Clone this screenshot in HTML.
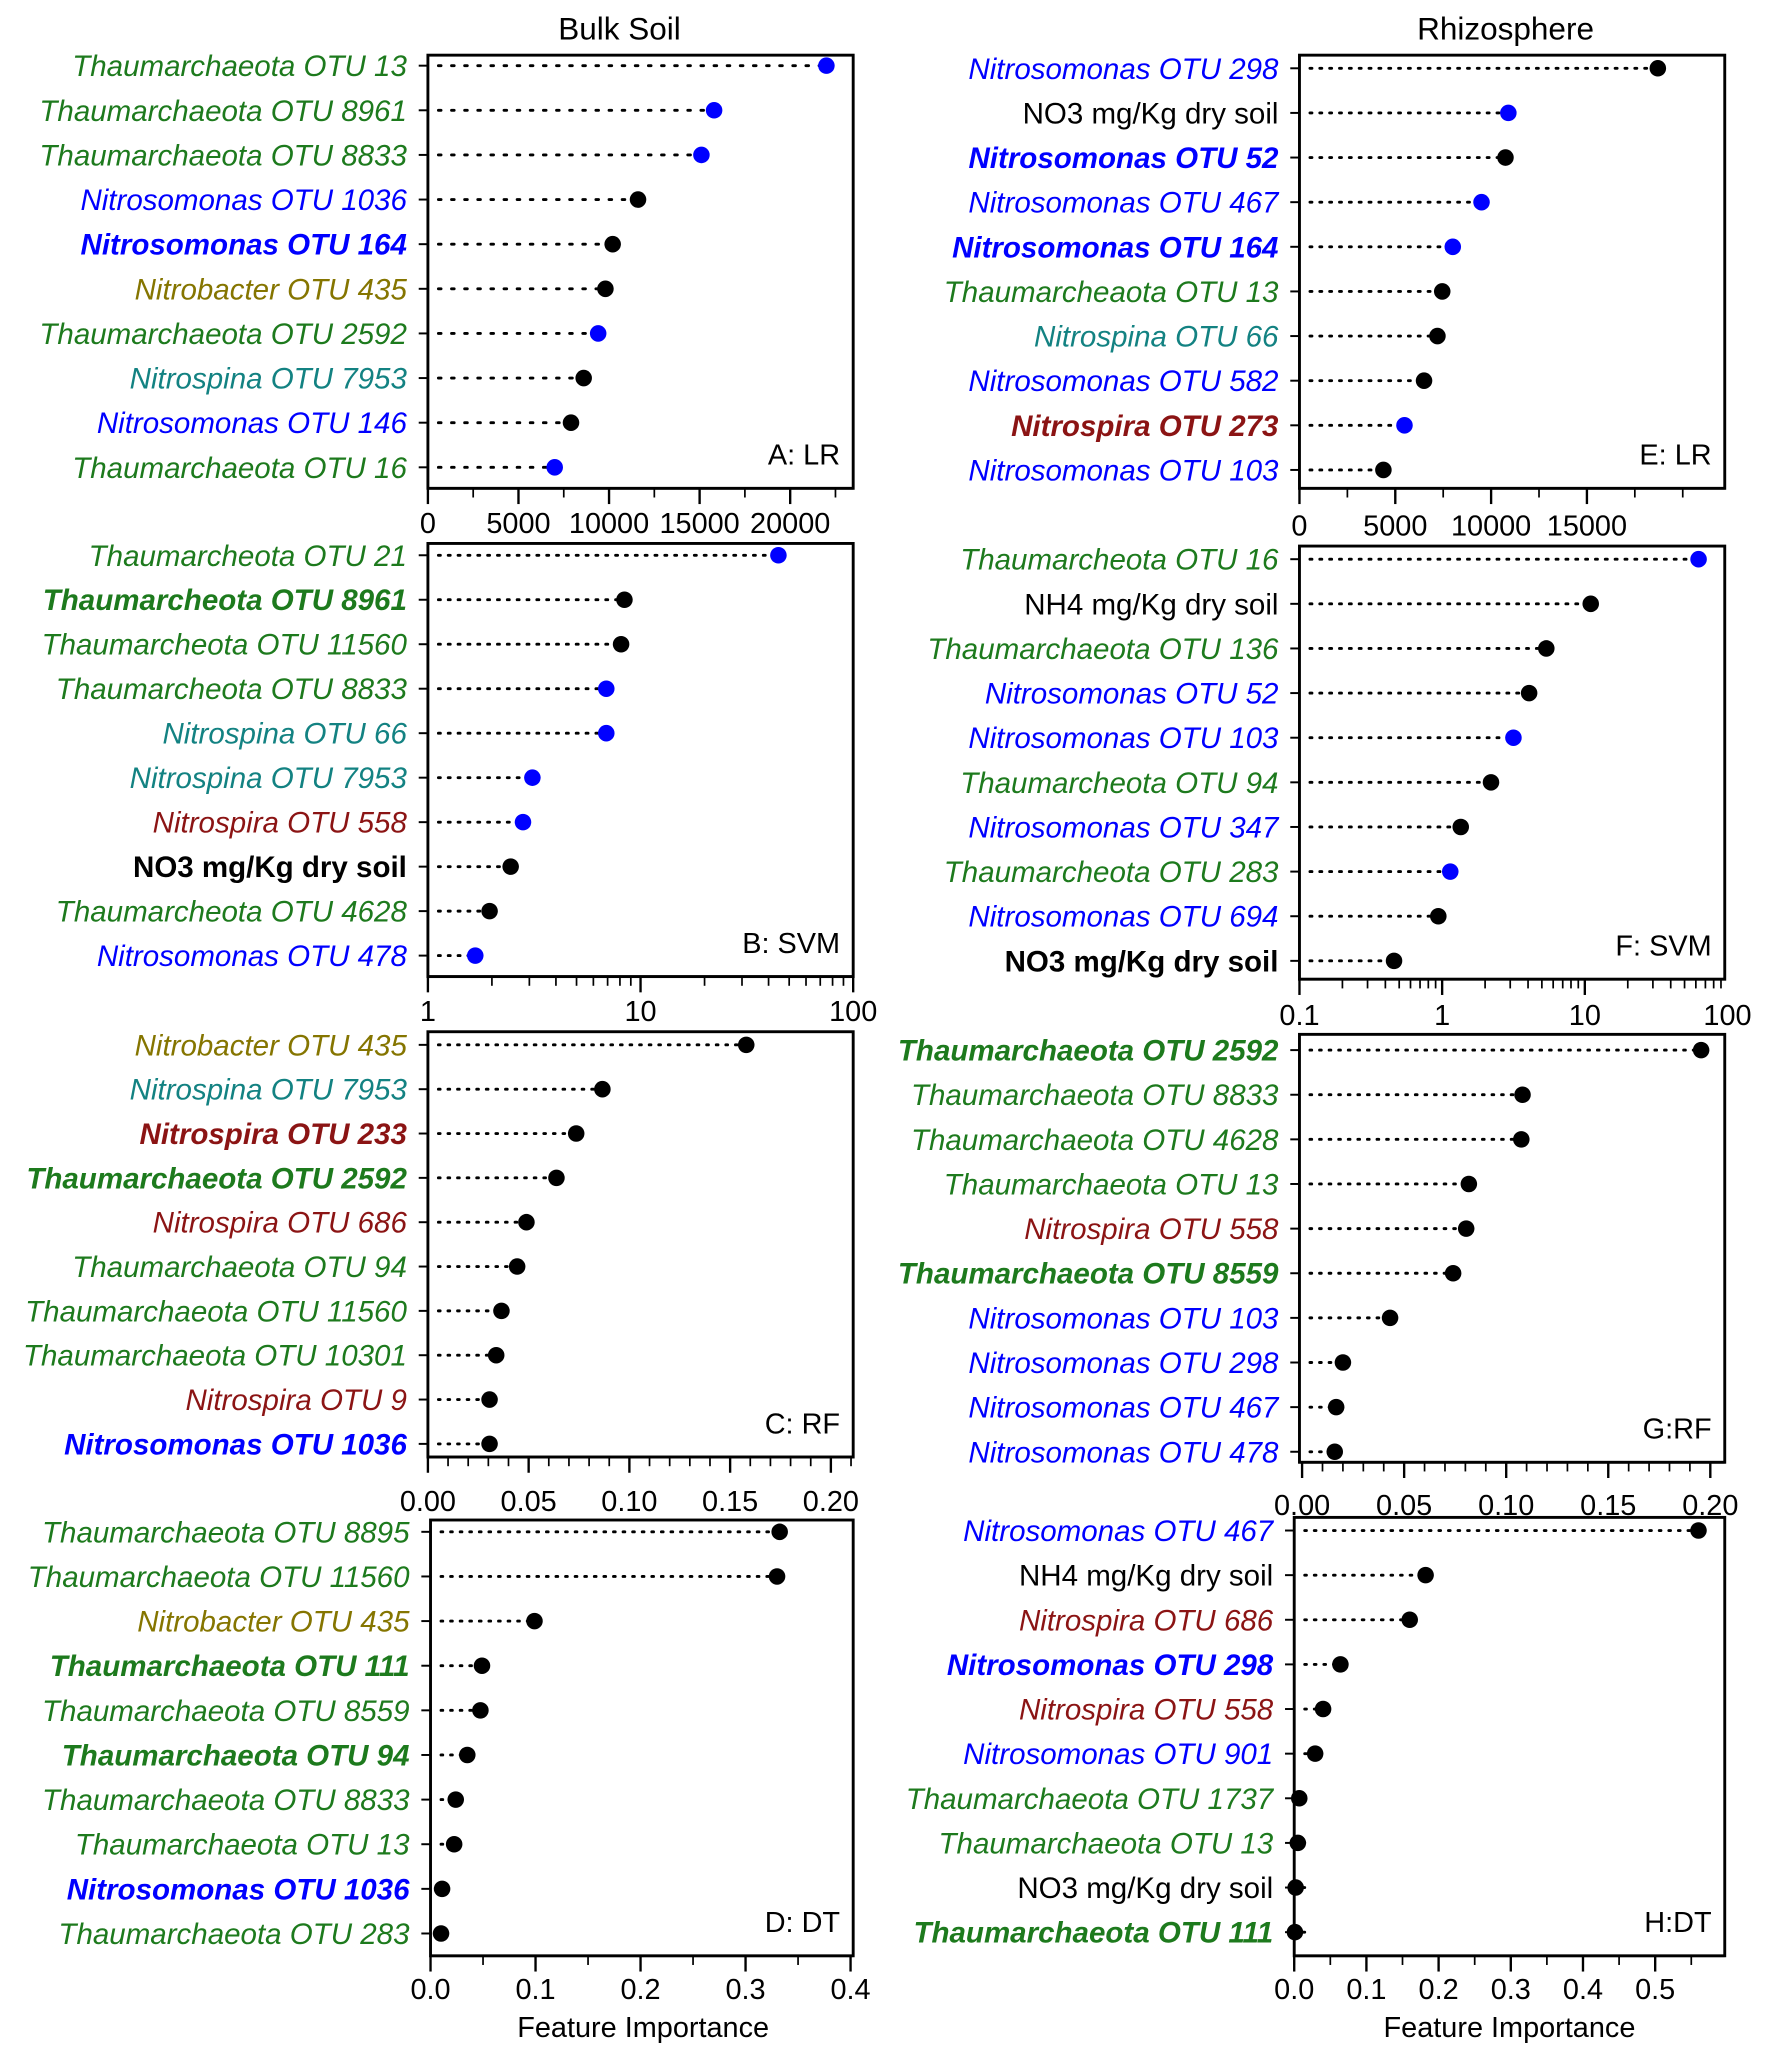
<!DOCTYPE html>
<html><head><meta charset="utf-8"><style>
html,body{margin:0;padding:0;background:#fff}
svg{display:block;font-family:"Liberation Sans",Arial,sans-serif}
</style></head><body>
<svg id="fig" width="1772" height="2059" viewBox="0 0 1350 1568.6" xmlns="http://www.w3.org/2000/svg">
<text x="472" y="30" font-size="24" text-anchor="middle">Bulk Soil</text>
<text x="1147" y="30" font-size="24" text-anchor="middle">Rhizosphere</text>
<text x="490" y="1552" font-size="22" text-anchor="middle">Feature Importance</text>
<text x="1150" y="1552" font-size="22" text-anchor="middle">Feature Importance</text>
</svg>
<script>
const G="#1d7a1d",B="#0000ff",O="#857500",T="#138282",R="#8b1414",K="#000";
// Panel A
const aLabels=["Thaumarchaeota OTU 13","Thaumarchaeota OTU 8961","Thaumarchaeota OTU 8833","Nitrosomonas OTU 1036","Nitrosomonas OTU 164","Nitrobacter OTU 435","Thaumarchaeota OTU 2592","Nitrospina OTU 7953","Nitrosomonas OTU 146","Thaumarchaeota OTU 16"];
const aValues=[22000,15800,15100,11600,10200,9800,9400,8600,7900,7000];
const aTicks=["0","5000","10000","15000","20000"];
// Panel B
const bLabels=["Thaumarcheota OTU 21","Thaumarcheota OTU 8961","Thaumarcheota OTU 11560","Thaumarcheota OTU 8833","Nitrospina OTU 66","Nitrospina OTU 7953","Nitrospira OTU 558","NO3 mg/Kg dry soil","Thaumarcheota OTU 4628","Nitrosomonas OTU 478"];
const bValues=[44.5,8.4,8.1,6.9,6.9,3.1,2.8,2.45,1.95,1.67];
const bTicks=["1","10","100"];
// Panel C
const cLabels=["Nitrobacter OTU 435","Nitrospina OTU 7953","Nitrospira OTU 233","Thaumarchaeota OTU 2592","Nitrospira OTU 686","Thaumarchaeota OTU 94","Thaumarchaeota OTU 11560","Thaumarchaeota OTU 10301","Nitrospira OTU 9","Nitrosomonas OTU 1036"];
const cValues=[0.158,0.0866,0.0736,0.0638,0.0489,0.0443,0.0365,0.0339,0.0306,0.0306];
const cTicks=["0.00","0.05","0.10","0.15","0.20"];
// Panel D
const dLabels=["Thaumarchaeota OTU 8895","Thaumarchaeota OTU 11560","Nitrobacter OTU 435","Thaumarchaeota OTU 111","Thaumarchaeota OTU 8559","Thaumarchaeota OTU 94","Thaumarchaeota OTU 8833","Thaumarchaeota OTU 13","Nitrosomonas OTU 1036","Thaumarchaeota OTU 283"];
const dValues=[0.3325,0.33,0.099,0.049,0.0475,0.035,0.024,0.0225,0.011,0.01];
const dTicks=["0.0","0.1","0.2","0.3","0.4"];
// Panel E
const eLabels=["Nitrosomonas OTU 298","NO3 mg/Kg dry soil","Nitrosomonas OTU 52","Nitrosomonas OTU 467","Nitrosomonas OTU 164","Thaumarcheaota OTU 13","Nitrospina OTU 66","Nitrosomonas OTU 582","Nitrospira OTU 273","Nitrosomonas OTU 103"];
const eValues=[18700,10900,10750,9500,8000,7450,7200,6500,5480,4380];
const eTicks=["0","5000","10000","15000"];
// Panel F
const fLabels=["Thaumarcheota OTU 16","NH4 mg/Kg dry soil","Thaumarchaeota OTU 136","Nitrosomonas OTU 52","Nitrosomonas OTU 103","Thaumarcheota OTU 94","Nitrosomonas OTU 347","Thaumarcheota OTU 283","Nitrosomonas OTU 694","NO3 mg/Kg dry soil"];
const fValues=[62.7,11.0,5.37,4.07,3.16,2.2,1.35,1.14,0.94,0.46];
const fTicks=["0.1","1","10","100"];
// Panel G
const gLabels=["Thaumarchaeota OTU 2592","Thaumarchaeota OTU 8833","Thaumarchaeota OTU 4628","Thaumarchaeota OTU 13","Nitrospira OTU 558","Thaumarchaeota OTU 8559","Nitrosomonas OTU 103","Nitrosomonas OTU 298","Nitrosomonas OTU 467","Nitrosomonas OTU 478"];
const gValues=[0.1955,0.108,0.1074,0.0817,0.0804,0.074,0.0431,0.02,0.0167,0.016];
const gTicks=["0.00","0.05","0.10","0.15","0.20"];
// Panel H
const hLabels=["Nitrosomonas OTU 467","NH4 mg/Kg dry soil","Nitrospira OTU 686","Nitrosomonas OTU 298","Nitrospira OTU 558","Nitrosomonas OTU 901","Thaumarchaeota OTU 1737","Thaumarchaeota OTU 13","NO3 mg/Kg dry soil","Thaumarchaeota OTU 111"];
const hValues=[0.56,0.182,0.16,0.064,0.04,0.029,0.007,0.005,0.002,0.001];
const hTicks=["0.0","0.1","0.2","0.3","0.4","0.5"];

const panels=[
 {id:"a",tag:"A: LR",labels:aLabels,values:aValues,ticks:aTicks,lc:[G,G,G,B,B,O,G,T,B,G],bold:[0,0,0,0,1,0,0,0,0,0],pc:[B,B,B,K,K,K,B,K,K,B],
  x0:326,x1:650,top:42,bot:372,r0:50,r1:356,scale:{type:"lin",min:0,p0:326,ppu:69/5000},tickVals:[0,5000,10000,15000,20000],minor:2500,ly:406,dash:"2 8"},
 {id:"b",tag:"B: SVM",labels:bLabels,values:bValues,ticks:bTicks,lc:[G,G,G,G,T,T,R,K,G,B],bold:[0,1,0,0,0,0,0,1,0,0],pc:[B,K,K,B,B,B,B,K,K,B],
  x0:326,x1:650,top:414,bot:744,r0:423,r1:728,scale:{type:"log",min:1,p0:326,ppd:162},tickVals:[1,10,100],ly:778,dash:"1.5 6"},
 {id:"c",tag:"C: RF",labels:cLabels,values:cValues,ticks:cTicks,lc:[O,T,R,G,R,G,G,G,R,B],bold:[0,0,1,1,0,0,0,0,0,1],pc:Array(10).fill(K),
  x0:326,x1:650,top:786,bot:1110,r0:796,r1:1100,scale:{type:"lin",min:0,p0:326,ppu:1535},tickVals:[0,0.05,0.1,0.15,0.2],minor:0.01,ly:1151,dash:"1.3 6"},
 {id:"d",tag:"D: DT",labels:dLabels,values:dValues,ticks:dTicks,lc:[G,G,O,G,G,G,G,G,B,G],bold:[0,0,0,1,0,1,0,0,1,0],pc:Array(10).fill(K),
  x0:328,x1:650,top:1158,bot:1490,r0:1167,r1:1473,scale:{type:"lin",min:0,p0:328,ppu:800},tickVals:[0,0.1,0.2,0.3,0.4],minor:0.05,ly:1523,dash:"1.3 6"},
 {id:"e",tag:"E: LR",labels:eLabels,values:eValues,ticks:eTicks,lc:[B,K,B,B,B,G,T,B,R,B],bold:[0,0,1,0,1,0,0,0,1,0],pc:[K,B,K,B,B,K,K,K,B,K],
  x0:990,x1:1314,top:42,bot:372,r0:52,r1:358,scale:{type:"lin",min:0,p0:990,ppu:73/5000},tickVals:[0,5000,10000,15000],minor:2500,ly:408,dash:"1.5 6"},
 {id:"f",tag:"F: SVM",labels:fLabels,values:fValues,ticks:fTicks,lc:[G,K,G,B,B,G,B,G,B,K],bold:[0,0,0,0,0,0,0,0,0,1],pc:[B,K,K,K,B,K,K,B,K,K],
  x0:990,x1:1314,top:416,bot:746,r0:426,r1:732,scale:{type:"log",min:0.1,p0:990,ppd:108.7},tickVals:[0.1,1,10,100],ly:781,dash:"1.5 6"},
 {id:"g",tag:"G:RF",labels:gLabels,values:gValues,ticks:gTicks,lc:[G,G,G,G,R,G,B,B,B,B],bold:[1,0,0,0,0,1,0,0,0,0],pc:Array(10).fill(K),
  x0:990,x1:1314,top:788,bot:1114,r0:800,r1:1106,scale:{type:"lin",min:0,p0:992,ppu:1555},tickVals:[0,0.05,0.1,0.15,0.2],minor:0.01,ly:1154,dash:"1.3 6"},
 {id:"h",tag:"H:DT",labels:hLabels,values:hValues,ticks:hTicks,lc:[B,K,R,B,R,B,G,G,K,G],bold:[0,0,0,1,0,0,0,0,0,1],pc:Array(10).fill(K),
  x0:986,x1:1314,top:1156,bot:1490,r0:1166,r1:1472,scale:{type:"lin",min:0,p0:986,ppu:550},tickVals:[0,0.1,0.2,0.3,0.4,0.5],minor:0.05,ly:1523,dash:"1.3 6"}
];
const svg=document.getElementById("fig");
const NS="http://www.w3.org/2000/svg";
function mk(tag,attrs,parent){const e=document.createElementNS(NS,tag);for(const k in attrs)e.setAttribute(k,attrs[k]);(parent||svg).appendChild(e);return e;}
function xpos(s,v){return s.type==="log"?s.p0+Math.log10(v/s.min)*s.ppd:s.p0+(v-s.min)*s.ppu;}
panels.forEach(p=>{
  const g=mk("g",{});
  
  
  const box=mk("rect",{x:p.x0,y:p.top,width:p.x1-p.x0,height:p.bot-p.top,fill:"none",stroke:"#000","stroke-width":2.2},g);
  
  
  const n=p.labels.length, step=(p.r1-p.r0)/(n-1);
  p.labels.forEach((lab,i)=>{
    const y=p.r0+i*step;
    mk("line",{x1:p.x0-7,x2:p.x0,y1:y,y2:y,stroke:"#000","stroke-width":1.5},g);
    const t=mk("text",{x:p.x0-16,y:y+8,"font-size":22.5,"text-anchor":"end",fill:p.lc[i],"font-style":p.lc[i]===K?"normal":"italic","font-weight":p.bold[i]?"bold":"normal"},g);
    t.textContent=lab;
    
    
    const px=xpos(p.scale,p.values[i]);
    const ln=mk("line",{x1:p.x0+8,x2:px,y1:y,y2:y,stroke:"#000","stroke-width":2.2,"stroke-dasharray":p.dash,"stroke-linecap":"round"},g);
    
    
    const c=mk("circle",{cx:px,cy:y,r:6.3,fill:p.pc[i]},g);
    
    
  });
  mk("line",{x1:p.x0,x2:p.x1,y1:p.bot,y2:p.bot,stroke:"#000","stroke-width":2},g);
  p.tickVals.forEach((v,i)=>{
    const x=xpos(p.scale,v);
    if(x<=p.x1+1) mk("line",{x1:x,x2:x,y1:p.bot,y2:p.bot+12,stroke:"#000","stroke-width":1.8},g);
    const t=mk("text",{x:x,y:p.ly,"font-size":22,"text-anchor":"middle"},g);
    t.textContent=p.ticks[i];
    
    
  });
  if(p.scale.type==="lin"){
    const maxV=p.scale.min+(p.x1-p.scale.p0)/p.scale.ppu;
    for(let v=0;v<=maxV+1e-9;v+=p.minor){const x=xpos(p.scale,v);mk("line",{x1:x,x2:x,y1:p.bot,y2:p.bot+7,stroke:"#000","stroke-width":1.3},g);}
  } else {
    for(let d=p.scale.min;d<100;d*=10){for(let k=2;k<10;k++){const x=xpos(p.scale,d*k);if(x<=p.x1)mk("line",{x1:x,x2:x,y1:p.bot,y2:p.bot+7,stroke:"#000","stroke-width":1.3},g);}}
  }
  const tg=mk("text",{x:p.x1-10,y:p.bot-18,"font-size":22,"text-anchor":"end"},g);
  tg.textContent=p.tag;
  
  
});
</script>
</body></html>
